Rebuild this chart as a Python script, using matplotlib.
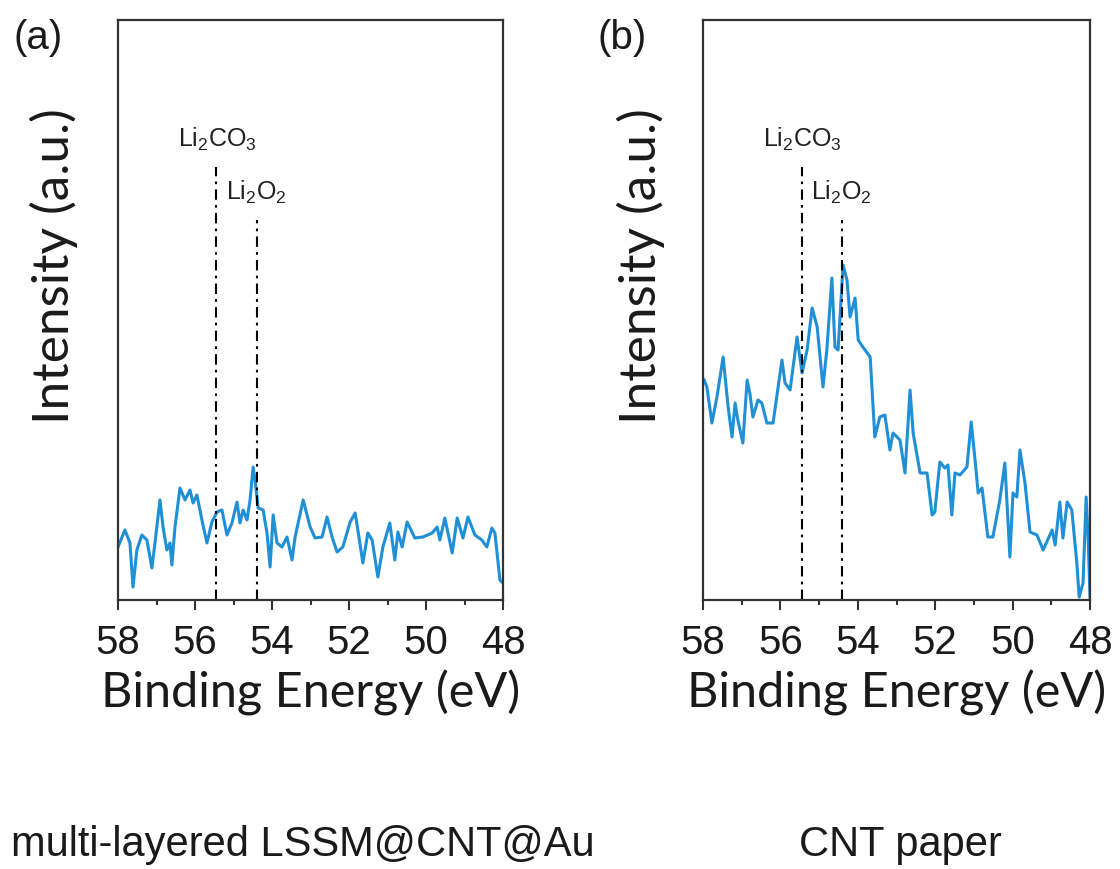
import numpy as np
import matplotlib
matplotlib.use("Agg")
import matplotlib.pyplot as plt
from matplotlib.ticker import MultipleLocator

# ---------------- data (arbitrary intensity units) ----------
# Panel (a): multi-layered LSSM@CNT@Au
a_energy = [58.00, 57.82, 57.69, 57.61, 57.51, 57.38, 57.25, 57.12, 57.04, 56.91,
            56.83, 56.73, 56.65, 56.60, 56.52, 56.39, 56.26, 56.13, 56.05, 55.95,
            55.82, 55.69, 55.56, 55.43, 55.30, 55.17, 55.04, 54.91, 54.83, 54.75,
            54.65, 54.57, 54.49, 54.44, 54.36, 54.23, 54.13, 54.05, 53.97, 53.87,
            53.74, 53.61, 53.48, 53.40, 53.19, 53.01, 52.88, 52.70, 52.57, 52.44,
            52.31, 52.16, 51.97, 51.84, 51.77, 51.64, 51.51, 51.40, 51.25, 51.12,
            50.94, 50.81, 50.73, 50.62, 50.49, 50.29, 50.08, 49.84, 49.71, 49.64,
            49.51, 49.32, 49.19, 49.04, 48.91, 48.73, 48.55, 48.42, 48.29, 48.21,
            48.08, 48.00]
a_intensity = [53, 70, 57, 13, 50, 65, 60, 32, 57, 100,
               73, 50, 57, 35, 73, 112, 100, 110, 97, 105,
               80, 57, 78, 88, 90, 65, 77, 98, 77, 90,
               80, 100, 133, 120, 92, 90, 67, 33, 85, 57,
               53, 63, 40, 63, 100, 73, 62, 63, 83, 63,
               48, 53, 78, 87, 70, 37, 67, 60, 23, 53,
               77, 40, 68, 53, 78, 62, 63, 67, 73, 60,
               82, 47, 82, 62, 83, 65, 60, 53, 72, 67,
               20, 17]

# Panel (b): CNT paper
b_energy = [57.97, 57.90, 57.77, 57.64, 57.48, 57.35, 57.25, 57.17, 57.10, 56.97,
            56.86, 56.79, 56.71, 56.58, 56.48, 56.35, 56.19, 55.96, 55.88, 55.75,
            55.57, 55.44, 55.31, 55.18, 55.05, 54.90, 54.80, 54.67, 54.59, 54.51,
            54.38, 54.28, 54.20, 54.07, 53.99, 53.87, 53.68, 53.56, 53.43, 53.30,
            53.17, 53.09, 52.91, 52.78, 52.65, 52.57, 52.39, 52.21, 52.08, 52.01,
            51.88, 51.75, 51.67, 51.57, 51.49, 51.36, 51.18, 51.07, 50.97, 50.89,
            50.79, 50.64, 50.51, 50.33, 50.20, 50.07, 49.99, 49.89, 49.81, 49.68,
            49.55, 49.37, 49.21, 48.98, 48.90, 48.78, 48.70, 48.59, 48.47, 48.34,
            48.28, 48.18, 48.10, 48.05, 48.00]
b_intensity = [220, 213, 177, 203, 243, 193, 163, 197, 180, 157,
               220, 207, 183, 200, 197, 177, 177, 240, 217, 210,
               263, 227, 250, 292, 273, 213, 250, 322, 253, 250,
               335, 320, 283, 302, 260, 253, 243, 163, 183, 185,
               150, 167, 160, 127, 210, 167, 127, 127, 85, 88,
               138, 132, 135, 85, 127, 125, 133, 178, 140, 107,
               112, 63, 63, 100, 137, 43, 107, 103, 150, 117,
               68, 65, 50, 70, 55, 98, 62, 98, 90, 37,
               3, 17, 103, 63, 3]

peak_positions = [55.45, 54.40]
peak_labels = [r"Li$_2$CO$_3$", r"Li$_2$O$_2$"]
panel_letters = ["(a)", "(b)"]
captions = ["multi-layered LSSM@CNT@Au", "CNT paper"]
x_ticks = [58, 56, 54, 52, 50, 48]
xlabel = "Binding Energy (eV)"
ylabel = "Intensity (a.u.)"

# ---------------- figure --------------------------------------------------------
W, H = 1120, 869
fig = plt.figure(figsize=(W / 100, H / 100), dpi=100)
plt.rcParams["mathtext.fontset"] = "custom"
plt.rcParams["mathtext.rm"] = "Liberation Sans"
plt.rcParams["mathtext.it"] = "Liberation Sans"

line_color = "#1f8fd6"
frame_color = "#333333"
text_color = "#1a1a1a"
ui_font = ["Lato", "DejaVu Sans"]
lab_font = ["Liberation Sans", "DejaVu Sans"]

axes_boxes = [
    (118, 20, 503, 600),
    (703, 20, 1090, 600),
]
datasets = [(a_energy, a_intensity), (b_energy, b_intensity)]
line_top = (433, 380)      # top of the dash-dot marker lines (data units)
label_base = (453, 400)    # baseline of the marker labels (data units)
ylabel_x = [54, 641]
letter_x = [13, 597]
caption_x = [303, 900]

for i, ((l, t, r, b), (xe, yi)) in enumerate(zip(axes_boxes, datasets)):
    ax = fig.add_axes([l / W, 1 - b / H, (r - l) / W, (b - t) / H])
    ax.plot(xe, yi, color=line_color, lw=2.2, solid_joinstyle="round")
    ax.set_xlim(58, 48)
    ax.set_ylim(0, 580)
    ax.set_yticks([])
    ax.set_xticks(x_ticks)
    ax.xaxis.set_minor_locator(MultipleLocator(1))
    ax.tick_params(axis="x", which="major", direction="out", length=7, width=1.5,
                   color=frame_color, labelsize=29, pad=10, labelcolor=text_color)
    ax.tick_params(axis="x", which="minor", direction="out", length=3.6, width=1.5,
                   color=frame_color)
    for lab in ax.get_xticklabels():
        lab.set_fontfamily(lab_font)
    for s in ax.spines.values():
        s.set_linewidth(1.6)
        s.set_color(frame_color)

    # reference lines
    for pos, top in zip(peak_positions, line_top):
        ax.plot([pos, pos], [0, top], color="black", lw=1.5,
                linestyle=(0, (5, 2.5, 1.3, 2.5)))
    ax.text(peak_positions[0] - 0.02, label_base[0], peak_labels[0], ha="center",
            va="baseline", fontsize=18, family=lab_font, color="#222222")
    ax.text(peak_positions[0] - 0.25, label_base[1], peak_labels[1], ha="left",
            va="baseline", fontsize=18, family=lab_font, color="#222222")

    ax.set_xlabel(xlabel, fontsize=35, family=ui_font, labelpad=6, color=text_color)

    fig.text(ylabel_x[i] / W, 1 - 266 / H, ylabel, rotation=90,
             ha="center", va="center", fontsize=37, family=ui_font, color=text_color)
    fig.text(letter_x[i] / W, 1 - 38 / H, panel_letters[i], ha="left", va="center",
             fontsize=29, family=lab_font, color=text_color)
    fig.text(caption_x[i] / W, 1 - 845 / H, captions[i], ha="center", va="center",
             fontsize=30, family=lab_font, color=text_color)

fig.savefig("out.png", dpi=100)
